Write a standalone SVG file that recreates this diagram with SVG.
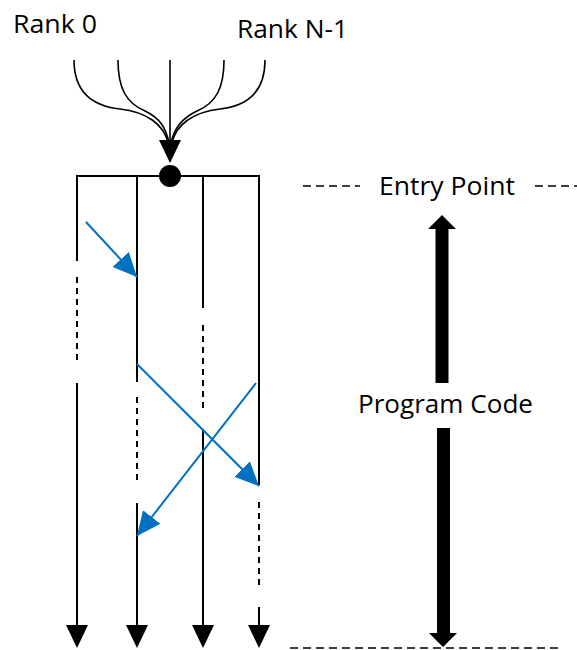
<svg xmlns="http://www.w3.org/2000/svg" width="577" height="650" viewBox="0 0 577 650">
  <defs>
    <style>
      .lbl { font-family: "Open Sans", "Liberation Sans", sans-serif; font-size: 25px; fill: #000; }
      .ln { stroke: #000; stroke-width: 2; fill: none; }
      .dash { stroke: #000; stroke-width: 2; fill: none; stroke-dasharray: 6 5; }
      .hdash { stroke: #000; stroke-width: 1.6; fill: none; stroke-dasharray: 8 5; }
      .cv { stroke: #000; stroke-width: 1.6; fill: none; }
      .blue { stroke: #0070C0; stroke-width: 2; fill: none; marker-end: url(#bh); }
    </style>
    <marker id="bh" markerUnits="userSpaceOnUse" markerWidth="26" markerHeight="24" viewBox="0 0 26 24" refX="24" refY="12" orient="auto">
      <path d="M0,1 L24,12 L0,23 Z" fill="#0070C0"/>
    </marker>
  </defs>

  <g id="rank-labels">
    <text class="lbl" x="13" y="33" textLength="84" lengthAdjust="spacingAndGlyphs">Rank 0</text>
    <text class="lbl" x="237" y="38" textLength="111" lengthAdjust="spacingAndGlyphs">Rank N-1</text>
  </g>

  <g id="fan-in">
    <path class="cv" d="M74,60 C74,92 92,106 120,109 C146,112 164,124 168,143"/>
    <path class="cv" d="M118,60 C118,88 126,103 145,111 C160,118 166,128 169,143"/>
    <line class="cv" x1="170" y1="60" x2="170" y2="143"/>
    <path class="cv" d="M224,60 C224,88 216,103 197,111 C182,118 174,128 171,143"/>
    <path class="cv" d="M265,60 C265,92 248,106 220,109 C194,112 176,124 172,143"/>
    <path d="M159,140 L181,140 L170,163 Z" fill="#000"/>
  </g>

  <g id="entry-node">
    <line class="ln" x1="77" y1="176" x2="259" y2="176"/>
    <circle cx="170" cy="176" r="11" fill="#000"/>
  </g>

  <g id="rank-lines">
    <!-- column 1 -->
    <line class="ln" x1="77" y1="175" x2="77" y2="261"/>
    <line class="dash" x1="77" y1="277" x2="77" y2="362"/>
    <line class="ln" x1="77" y1="383" x2="77" y2="627"/>
    <path d="M66,625 L88,625 L77,648 Z" fill="#000"/>
    <!-- column 2 -->
    <line class="ln" x1="137" y1="175" x2="137" y2="382"/>
    <line class="dash" x1="137" y1="397" x2="137" y2="482"/>
    <line class="ln" x1="137" y1="503" x2="137" y2="627"/>
    <path d="M126,625 L148,625 L137,648 Z" fill="#000"/>
    <!-- column 3 -->
    <line class="ln" x1="203" y1="175" x2="203" y2="308"/>
    <line class="dash" x1="203" y1="325" x2="203" y2="408"/>
    <line class="ln" x1="203" y1="429" x2="203" y2="627"/>
    <path d="M192,625 L214,625 L203,648 Z" fill="#000"/>
    <!-- column 4 -->
    <line class="ln" x1="259" y1="175" x2="259" y2="485"/>
    <line class="dash" x1="259" y1="502" x2="259" y2="585"/>
    <line class="ln" x1="259" y1="607" x2="259" y2="627"/>
    <path d="M248,625 L270,625 L259,648 Z" fill="#000"/>
  </g>

  <g id="connectors">
    <line class="blue" x1="86" y1="222" x2="137" y2="277"/>
    <line class="blue" x1="137" y1="364" x2="259" y2="486"/>
    <line class="blue" x1="256" y1="383" x2="137" y2="536"/>
  </g>

  <g id="entry-point">
    <line class="hdash" x1="303" y1="186" x2="360" y2="186"/>
    <text class="lbl" x="379" y="195" textLength="136" lengthAdjust="spacingAndGlyphs">Entry Point</text>
    <line class="hdash" x1="535" y1="186" x2="577" y2="186"/>
  </g>

  <g id="program-code">
    <path d="M442,215 L456,229 L448.5,229 L448.5,383 L435.5,383 L435.5,229 L428,229 Z" fill="#000"/>
    <text class="lbl" x="358" y="413" textLength="175" lengthAdjust="spacingAndGlyphs">Program Code</text>
    <path d="M437,428 L450,428 L450,633 L457,633 L443,647 L429,633 L437,633 Z" fill="#000"/>
    <line class="hdash" x1="290" y1="648" x2="562" y2="648"/>
  </g>
</svg>
